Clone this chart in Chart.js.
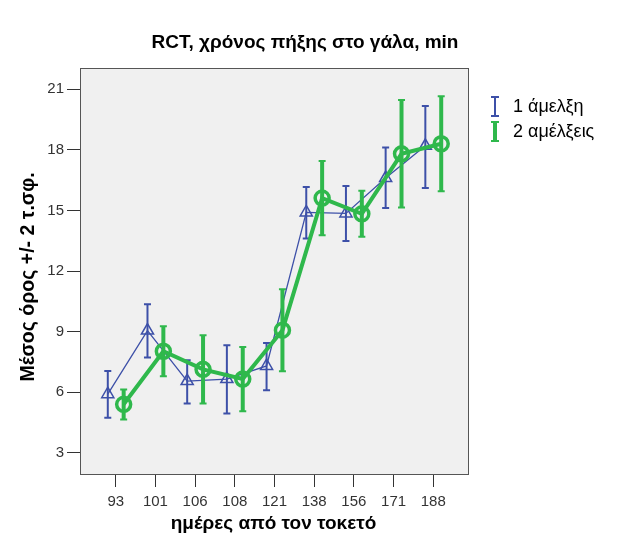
<!DOCTYPE html>
<html lang="el">
<head>
    <meta charset="UTF-8">
    <title>RCT, χρόνος πήξης στο γάλα, min</title>
    <script src="https://cdn.jsdelivr.net/npm/chart.js"></script>
    <style>
        body {
            margin: 0;
            padding: 0;
            background: #fff;
        }
        #wrap {
            width: 625px;
            height: 556px;
        }
    </style>
</head>
<body>
    <div id="wrap">
        <canvas id="rctChart" width="625" height="556"></canvas>
    </div>

    <script>
        // data
        const days = ['93', '101', '106', '108', '121', '138', '156', '171', '188'];
        const yTicks = [3, 6, 9, 12, 15, 18, 21];

        const mean1 = [5.9, 9.05, 6.55, 6.65, 7.3, 14.9, 14.85, 16.6, 18.2];
        const low1  = [4.73, 7.72, 5.44, 4.94, 6.1, 13.61, 13.48, 15.12, 16.11];
        const high1 = [7.05, 10.36, 7.58, 8.33, 8.44, 16.16, 16.21, 18.11, 20.17];

        const mean2 = [5.4, 8.03, 7.13, 6.65, 9.07, 15.61, 14.83, 17.8, 18.3];
        const low2  = [4.65, 6.79, 5.44, 5.06, 7.04, 13.77, 13.69, 15.14, 15.95];
        const high2 = [6.13, 9.27, 8.82, 8.24, 11.1, 17.45, 15.97, 20.46, 20.65];

        const seriesNames = ['1 άμελξη', '2 αμέλξεις'];

        const BLUE = '#3d50a8';
        const GREEN = '#2fb84c';
        const FONT = '"Liberation Sans", Arial, sans-serif';

        const bars = [
            { low: low1, high: high1, color: BLUE, width: 2, cap: 5 },
            { low: low2, high: high2, color: GREEN, width: 4, cap: 5 }
        ];

        // grey plot area + frame
        const frame = {
            id: 'frame',
            beforeDatasetsDraw(chart) {
                const a = chart.chartArea, c = chart.ctx;
                c.save();
                c.fillStyle = '#f0f0f0';
                c.fillRect(a.left, a.top, a.right - a.left, a.bottom - a.top);
                c.strokeStyle = '#555';
                c.lineWidth = 1;
                c.strokeRect(a.left + 0.5, a.top + 0.5, a.right - a.left - 1, a.bottom - a.top);
                c.restore();
            }
        };

        // error bars, drawn after each dataset
        const errorBars = {
            id: 'errorBars',
            afterDatasetDraw(chart, args) {
                const b = bars[args.index];
                if (!b) return;
                const c = chart.ctx, xs = chart.scales.x, ys = chart.scales.y;
                const pts = chart.data.datasets[args.index].data;
                c.save();
                c.strokeStyle = b.color;
                pts.forEach((p, i) => {
                    const x = xs.getPixelForValue(p.x);
                    const y1 = ys.getPixelForValue(b.high[i]);
                    const y2 = ys.getPixelForValue(b.low[i]);
                    c.lineWidth = b.width;
                    c.beginPath();
                    c.moveTo(x, y1); c.lineTo(x, y2);
                    c.stroke();
                    c.lineWidth = 2;
                    c.beginPath();
                    c.moveTo(x - b.cap / 2 - 1, y1); c.lineTo(x + b.cap / 2 + 1, y1);
                    c.moveTo(x - b.cap / 2 - 1, y2); c.lineTo(x + b.cap / 2 + 1, y2);
                    c.stroke();
                });
                c.restore();
            }
        };

        // titles and legend
        const texts = {
            id: 'texts',
            afterDraw(chart) {
                const a = chart.chartArea, c = chart.ctx;
                c.save();
                c.fillStyle = '#000';
                c.textBaseline = 'middle';
                c.textAlign = 'center';
                c.font = 'bold 19px ' + FONT;
                c.fillText('RCT, χρόνος πήξης στο γάλα, min', 305, 43);
                c.fillText('ημέρες από τον τοκετό', (a.left + a.right) / 2 - 1, 524);
                c.save();
                c.translate(29, 277);
                c.rotate(-Math.PI / 2);
                c.font = 'bold 19.5px ' + FONT;
                c.fillText('Μέσος όρος +/- 2 τ.σφ.', 0, 0);
                c.restore();

                // legend
                c.textAlign = 'left';
                c.font = '18px ' + FONT;
                const rows = [{ y: 106, color: BLUE, w: 2 }, { y: 131, color: GREEN, w: 4 }];
                rows.forEach((r, i) => {
                    c.strokeStyle = r.color;
                    c.lineWidth = r.w;
                    c.beginPath();
                    c.moveTo(495, r.y - 9); c.lineTo(495, r.y + 10);
                    c.stroke();
                    c.lineWidth = 2;
                    c.beginPath();
                    c.moveTo(491, r.y - 9); c.lineTo(499, r.y - 9);
                    c.moveTo(491, r.y + 10); c.lineTo(499, r.y + 10);
                    c.stroke();
                    c.fillStyle = '#000';
                    c.fillText(seriesNames[i], 513, r.y + 1);
                });
                c.restore();
            }
        };

        const ctx = document.getElementById('rctChart').getContext('2d');
        const rctChart = new Chart(ctx, {
            type: 'line',
            data: {
                datasets: [
                    {
                        label: seriesNames[0],
                        data: mean1.map((v, i) => ({ x: i - 0.2, y: v })),
                        borderColor: BLUE,
                        borderWidth: 1.3,
                        pointStyle: 'triangle',
                        pointRadius: 7,
                        pointBorderWidth: 1.5,
                        pointBorderColor: BLUE,
                        pointBackgroundColor: 'rgba(0,0,0,0)',
                        tension: 0,
                        order: 1
                    },
                    {
                        label: seriesNames[1],
                        data: mean2.map((v, i) => ({ x: i + 0.2, y: v })),
                        borderColor: GREEN,
                        borderWidth: 4,
                        pointStyle: 'circle',
                        pointRadius: 7,
                        pointBorderWidth: 3.5,
                        pointBorderColor: GREEN,
                        pointBackgroundColor: 'rgba(0,0,0,0)',
                        tension: 0,
                        order: 0
                    }
                ]
            },
            options: {
                responsive: false,
                animation: false,
                devicePixelRatio: 1,
                layout: { padding: { top: 68, right: 156, left: 0, bottom: 0 } },
                plugins: {
                    legend: { display: false },
                    tooltip: { enabled: false },
                    title: { display: false }
                },
                scales: {
                    x: {
                        type: 'linear',
                        min: -0.9,
                        max: 8.9,
                        afterBuildTicks: (s) => { s.ticks = days.map((d, i) => ({ value: i })); },
                        afterFit: (s) => { s.height = 82; },
                        ticks: {
                            callback: (v) => days[v],
                            color: '#333',
                            font: { family: FONT, size: 15 },
                            padding: 6,
                            maxRotation: 0,
                            autoSkip: false
                        },
                        grid: {
                            drawOnChartArea: false,
                            drawTicks: true,
                            tickLength: 13,
                            color: '#333'
                        },
                        border: { display: false }
                    },
                    y: {
                        min: 1.95,
                        max: 22.05,
                        afterBuildTicks: (s) => { s.ticks = yTicks.map(v => ({ value: v })); },
                        afterFit: (s) => { s.width = 80; },
                        ticks: {
                            color: '#333',
                            font: { family: FONT, size: 15 },
                            padding: 3
                        },
                        grid: {
                            drawOnChartArea: false,
                            drawTicks: true,
                            tickLength: 13,
                            color: '#333'
                        },
                        border: { display: false }
                    }
                }
            },
            plugins: [frame, errorBars, texts]
        });
    </script>
</body>
</html>
